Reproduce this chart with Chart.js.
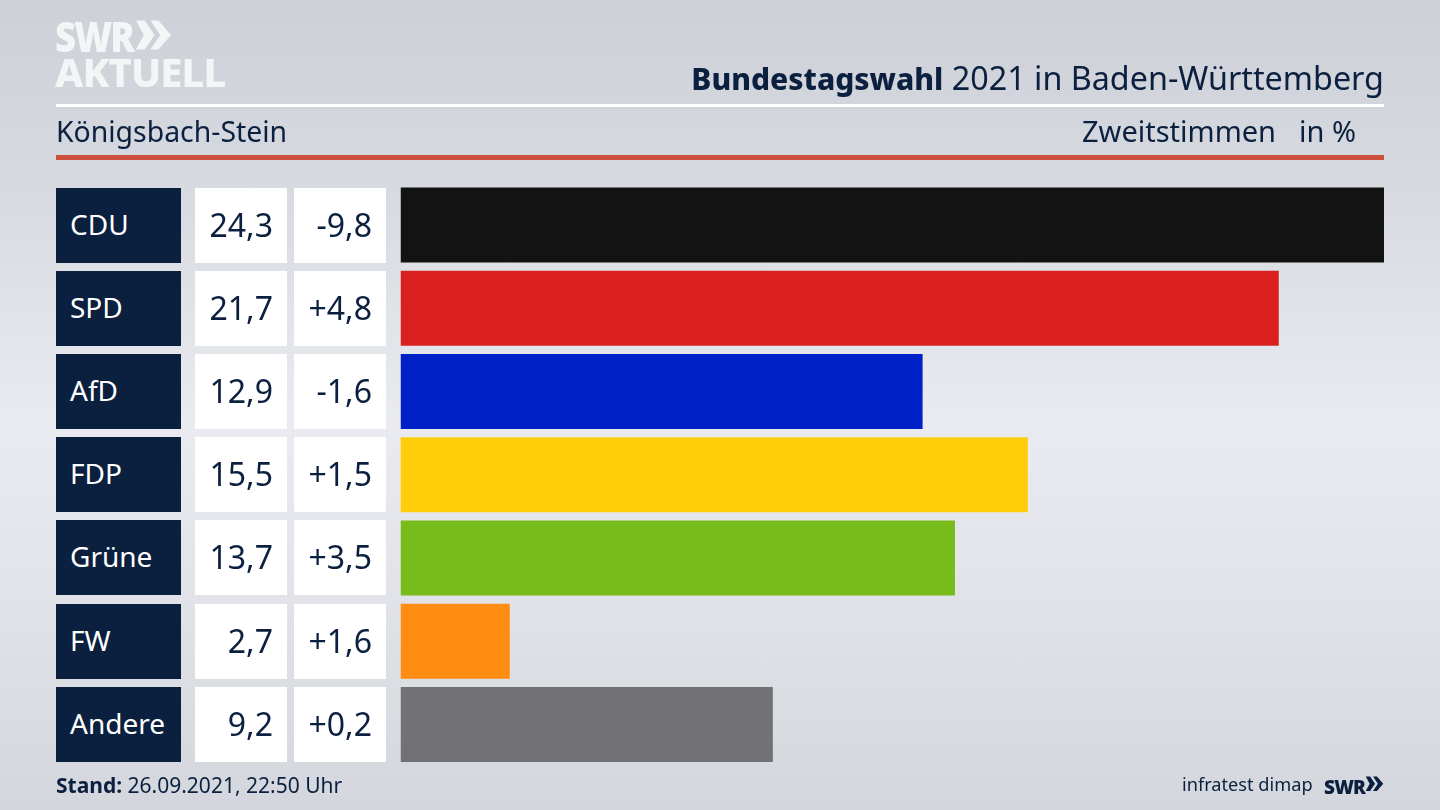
<!DOCTYPE html>
<html lang="de"><head><meta charset="utf-8">
<script src="https://cdn.jsdelivr.net/npm/chart.js@4/dist/chart.umd.min.js"></script>
<style>
html,body{margin:0;padding:0;width:1440px;height:810px;overflow:hidden}
body{position:relative;font-family:"Noto Sans",sans-serif;color:#0b1f3f;
background:linear-gradient(180deg,#cdd0d7 0%,#d6d9df 22%,#e9ebf0 52%,#e2e4e9 72%,#d3d6dc 100%)}
#c{position:absolute;left:0;top:0;width:1440px;height:810px}
.t{position:absolute;white-space:nowrap;line-height:1}
.r{position:absolute;height:75px}
.p{left:56px;width:125px;background:#0b1f3f;color:#fff;font-size:28px;line-height:72px;text-indent:14px}
.v{left:195px;width:92px;background:#fff}.d{left:294px;width:92px;background:#fff}
.v,.d{font-size:32px;line-height:73px;text-align:right;box-sizing:border-box;padding-right:14px}
.ln{position:absolute;left:56px;width:1328px}
</style></head><body>
<canvas id="c" width="1440" height="810"></canvas>
<div class="t" style="left:55px;top:7px;font:900 42px 'Noto Sans';color:#f4f5f7;letter-spacing:-2.2px;transform:scaleX(.87);transform-origin:0 0">SWR</div>
<svg style="position:absolute;left:136px;top:19px" width="35" height="33" viewBox="0 0 36 33"><path d="M0 1h9l10 15-10 15H0l8-15zM15 1h8l13 15-13 15h-8l10-15z" fill="#f4f5f7"/></svg>
<div class="t" style="left:55px;top:44px;font:800 40px 'Noto Sans';color:#f4f5f7;letter-spacing:-.9px">AKTUELL</div>
<div class="t" style="right:56px;top:61px;font-size:32.3px"><b style="font-weight:800;font-size:30px">Bundestagswahl</b> 2021 in Baden-Württemberg</div>
<div class="ln" style="top:104px;height:3px;background:#fff"></div>
<div class="t" style="left:56px;top:117px;font-size:28.4px">Königsbach-Stein</div>
<div class="t" style="left:1082px;top:116px;font-size:29px">Zweitstimmen</div>
<div class="t" style="left:1299px;top:116px;font-size:29px">in %</div>
<div class="ln" style="top:155px;height:5px;background:#cd4e3c"></div>
<div id="rows"></div>
<div class="t" style="left:56px;top:775px;font-size:21px"><b>Stand:</b> 26.09.2021, 22:50 Uhr</div>
<div class="t" style="left:1182px;top:775px;font-size:18.2px">infratest dimap</div>
<div class="t" style="left:1324px;top:774px;font:900 19px 'Noto Sans';letter-spacing:-.8px">SWR</div>
<svg style="position:absolute;left:1365px;top:776px" width="19" height="16" viewBox="0 0 36 33"><path d="M0 1h9l10 15-10 15H0l8-15zM15 1h8l13 15-13 15h-8l10-15z" fill="#0b1f3f"/></svg>
<script>
const parties=["CDU","SPD","AfD","FDP","Grüne","FW","Andere"];
const shares=[24.3,21.7,12.9,15.5,13.7,2.7,9.2];
const changes=["-9,8","+4,8","-1,6","+1,5","+3,5","+1,6","+0,2"];
const colors=["#131313","#da201f","#0021c7","#ffcd0a","#78bc1b","#ff8d14","#727274"];

const chart=new Chart(document.getElementById("c"),{
  type:"bar",
  data:{labels:parties,datasets:[{data:shares,backgroundColor:colors,borderWidth:0,barPercentage:.9,categoryPercentage:1}]},
  options:{indexAxis:"y",responsive:false,animation:false,
    layout:{padding:{left:400.5,right:56,top:183.4,bottom:43.9}},
    plugins:{legend:{display:false},tooltip:{enabled:false}},
    scales:{x:{display:false,min:0,max:24.3},y:{display:false}}}
});
const rows=document.getElementById("rows");
parties.forEach((p,i)=>{
  const top=chart.scales.y.getPixelForValue(i)-37.5;
  [["p",p],["v",shares[i].toFixed(1).replace(".",",")],["d",changes[i]]].forEach(([k,t])=>{
    const e=document.createElement("div");e.className="r "+k;e.style.top=top+"px";e.textContent=t;rows.appendChild(e);
  });
});
</script>
</body></html>
